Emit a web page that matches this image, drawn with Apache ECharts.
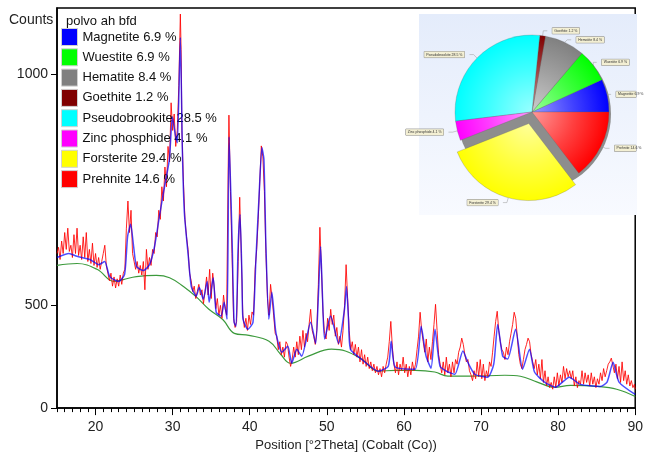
<!DOCTYPE html>
<html>
<head>
<meta charset="utf-8">
<script src="https://cdn.jsdelivr.net/npm/echarts@6/dist/echarts.min.js"></script>
<style>
html, body { margin: 0; padding: 0; background: #fff; }
#chart { width: 646px; height: 457px; }
</style>
</head>
<body>
<div id="chart"></div>
<script>
// phases (legend + pie)
var phases = ["Magnetite", "Wuestite", "Hematite", "Goethite", "Pseudobrookite", "Zinc phosphide", "Forsterite", "Prehnite"];
var phasePct = [6.9, 6.9, 8.4, 1.2, 28.5, 4.1, 29.4, 14.6];
var phaseColors = ["#0000ff", "#00ff00", "#808080", "#800000", "#00ffff", "#ff00ff", "#ffff00", "#ff0000"];

// axis ticks
var xTicks = [20, 30, 40, 50, 60, 70, 80, 90];
var yTicks = [0, 500, 1000];

// observed pattern [°2Theta, counts]
var observed = [
[15.0,640],[15.2,655],[15.4,625],[15.6,670],[15.8,640],[16.0,690],[16.2,650],[16.4,700],[16.6,645],[16.8,660],
[17.0,630],[17.2,685],[17.4,640],[17.6,700],[17.8,635],[18.0,660],[18.2,625],[18.4,680],[18.6,630],[18.8,690],
[19.0,620],[19.2,650],[19.4,615],[19.6,665],[19.8,610],[20.0,640],[20.2,605],[20.4,630],[20.6,600],[20.8,620],
[21.0,640],[21.2,660],[21.4,610],[21.6,590],[21.8,570],[22.0,590],[22.2,555],[22.4,580],[22.6,550],[22.8,575],
[23.0,555],[23.2,585],[23.4,560],[23.6,590],[23.8,600],[24.0,700],[24.2,760],[24.4,690],[24.6,740],[24.8,640],
[25.0,620],[25.2,600],[25.4,620],[25.6,590],[25.8,610],[26.0,585],[26.2,620],[26.4,545],[26.6,650],[26.8,600],
[27.0,630],[27.2,610],[27.4,650],[27.6,640],[27.8,690],[28.0,680],[28.2,740],[28.4,720],[28.6,790],[28.8,760],
[29.0,830],[29.2,790],[29.4,870],[29.6,840],[29.8,950],[30.0,900],[30.2,930],[30.4,870],[30.6,900],[30.8,980],
[31.0,1097],[31.1,1040],[31.2,900],[31.4,800],[31.6,720],[31.8,680],[32.0,650],[32.2,590],[32.4,570],[32.6,540],
[32.8,555],[33.0,520],[33.2,540],[33.4,560],[33.6,530],[33.8,545],[34.0,505],[34.2,540],[34.4,580],[34.6,530],
[34.8,600],[35.0,520],[35.2,590],[35.4,550],[35.6,490],[35.8,520],[36.0,470],[36.2,500],[36.4,460],[36.6,530],
[36.8,490],[37.0,470],[37.2,820],[37.3,928],[37.5,780],[37.7,640],[37.9,460],[38.1,430],[38.3,450],[38.5,620],
[38.7,768],[38.9,640],[39.1,470],[39.3,430],[39.5,460],[39.7,420],[39.9,470],[40.1,440],[40.3,480],[40.5,470],
[40.7,600],[40.9,650],[41.1,720],[41.3,800],[41.5,871],[41.7,850],[41.9,780],[42.1,640],[42.3,520],[42.5,470],
[42.7,560],[42.9,520],[43.1,470],[43.3,410],[43.5,400],[43.7,350],[43.9,380],[44.1,330],[44.3,360],[44.5,320],
[44.7,380],[44.9,370],[45.1,320],[45.3,280],[45.5,310],[45.7,360],[45.9,320],[46.1,380],[46.3,330],[46.5,400],
[46.7,350],[46.9,420],[47.1,360],[47.3,410],[47.5,380],[47.7,440],[47.9,488],[48.1,420],[48.3,400],[48.5,370],
[48.7,420],[48.9,560],[49.1,702],[49.3,600],[49.5,480],[49.7,410],[49.9,390],[50.1,460],[50.3,420],[50.5,488],
[50.7,440],[50.9,470],[51.1,400],[51.3,430],[51.5,370],[51.7,400],[51.9,360],[52.1,420],[52.3,500],[52.5,612],
[52.7,520],[52.9,420],[53.1,350],[53.3,380],[53.5,330],[53.7,370],[53.9,320],[54.1,360],[54.3,300],[54.5,350],
[54.7,290],[54.9,330],[55.1,280],[55.3,320],[55.5,270],[55.7,300],[55.9,260],[56.1,290],[56.3,250],[56.5,280],
[56.7,240],[56.9,270],[57.1,230],[57.3,280],[57.5,250],[57.7,290],[57.9,320],[58.1,380],[58.3,450],[58.5,360],
[58.7,290],[58.9,250],[59.1,300],[59.3,240],[59.5,290],[59.7,260],[59.9,320],[60.1,250],[60.3,290],[60.5,230],
[60.7,280],[60.9,240],[61.1,300],[61.3,260],[61.5,290],[61.7,350],[61.9,400],[62.1,479],[62.3,420],[62.5,380],
[62.7,340],[62.9,390],[63.1,300],[63.3,360],[63.5,310],[63.7,380],[63.9,440],[64.1,503],[64.3,420],[64.5,330],
[64.7,290],[64.9,250],[65.1,300],[65.3,240],[65.5,320],[65.7,250],[65.9,290],[66.1,230],[66.3,300],[66.5,250],
[66.7,310],[66.9,290],[67.1,340],[67.3,360],[67.5,393],[67.7,370],[67.9,330],[68.1,300],[68.3,310],[68.5,260],
[68.7,240],[68.9,210],[69.1,260],[69.3,220],[69.5,300],[69.7,230],[69.9,310],[70.1,220],[70.3,290],[70.5,210],
[70.7,260],[70.9,230],[71.1,300],[71.3,280],[71.5,340],[71.7,400],[71.9,450],[72.1,482],[72.3,420],[72.5,380],
[72.7,350],[72.9,340],[73.1,310],[73.3,360],[73.5,330],[73.7,380],[73.9,410],[74.1,440],[74.3,479],[74.5,460],
[74.7,400],[74.9,330],[75.1,290],[75.3,270],[75.5,310],[75.7,350],[75.9,370],[76.1,393],[76.3,380],[76.5,330],
[76.7,300],[76.9,270],[77.1,310],[77.3,240],[77.5,290],[77.7,220],[77.9,310],[78.1,200],[78.3,260],[78.5,180],
[78.7,230],[78.9,170],[79.1,200],[79.3,160],[79.5,230],[79.7,170],[79.9,250],[80.1,180],[80.3,240],[80.5,200],
[80.7,280],[80.9,220],[81.1,270],[81.3,230],[81.5,260],[81.7,220],[81.9,260],[82.1,180],[82.3,230],[82.5,170],
[82.7,210],[82.9,190],[83.1,260],[83.3,190],[83.5,250],[83.7,200],[83.9,240],[84.1,180],[84.3,250],[84.5,190],
[84.7,230],[84.9,170],[85.1,220],[85.3,190],[85.5,250],[85.7,210],[85.9,270],[86.1,230],[86.3,260],[86.5,290],
[86.7,300],[86.9,316],[87.1,310],[87.3,250],[87.5,290],[87.7,220],[87.9,280],[88.1,200],[88.3,300],[88.5,210],
[88.7,260],[88.9,190],[89.1,240],[89.3,180],[89.5,210],[89.7,170],[89.9,190],[90.0,160]
];

// calculated profile
var calculated = [
[15.0,630],[16.55,640],[17.58,633],[19.26,625],[20.42,612],[21.19,620],[21.84,581],[23.0,568],[23.77,587],[24.16,681],
[24.55,709],[24.94,657],[25.32,607],[26.23,597],[27.0,612],[27.65,657],[28.29,727],[28.81,778],[29.19,811],[29.58,845],
[29.97,925],[30.35,892],[30.61,877],[31.0,1060],[31.26,864],[31.52,735],[32.03,633],[32.42,554],[33.06,527],[33.45,552],
[33.97,518],[34.48,568],[34.74,509],[35.26,578],[35.65,479],[36.29,467],[36.68,509],[37.06,457],[37.32,888],[37.71,675],
[37.97,447],[38.23,434],[38.48,650],[38.74,731],[39.0,573],[39.13,457],[39.77,424],[40.42,447],[40.8,625],[41.19,764],
[41.58,868],[41.84,845],[42.1,657],[42.48,457],[42.87,538],[43.39,413],[44.16,340],[44.94,363],[45.45,294],[46.1,352],
[46.74,324],[47.9,447],[48.55,374],[48.94,546],[49.19,657],[49.45,518],[49.71,390],[50.48,467],[51.52,374],[52.29,488],
[52.55,554],[52.81,457],[53.06,352],[54.48,312],[56.68,258],[57.97,281],[58.35,382],[58.87,277],[61.45,267],[62.23,434],
[62.87,324],[63.52,272],[64.03,424],[64.68,281],[65.71,254],[66.61,243],[67.65,345],[68.29,298],[69.19,243],[70.87,228],
[71.65,290],[72.16,440],[72.81,324],[73.45,312],[74.48,424],[75.39,267],[76.29,352],[76.94,254],[78.23,202],[79.65,172],
[81.45,228],[82.87,189],[85.45,177],[86.35,202],[87.13,298],[87.9,202],[90.0,125]
];

// background
var background = [
[15,610],[17.6,615],[20.2,600],[22.4,568],[23.6,573],[25.3,581],[27.9,584],[29.6,578],[31.4,554],[33.1,524],
[34.7,488],[36.5,456],[38,410],[39.9,403],[42.5,382],[44,332],[45.3,294],[47.6,324],[50.6,352],[52.4,345],
[54.5,312],[56.7,258],[58.9,262],[61.5,262],[64,254],[65.7,233],[68.7,233],[73.1,238],[75.1,233],[77.3,202],
[79.5,172],[81.6,183],[85.1,177],[87.6,160],[90,110]
];

// the counts axis of the reference is stretched towards the top
function scaleY(c) {
    return 0.077 * c + 0.000258 * c * c;
}
function toPlot(arr) {
    return arr.map(p => [p[0], scaleY(p[1])]);
}

function tint(hex, f) {
    var r = parseInt(hex.substr(1, 2), 16), g = parseInt(hex.substr(3, 2), 16), b = parseInt(hex.substr(5, 2), 16);
    r = Math.round(r + (255 - r) * f);
    g = Math.round(g + (255 - g) * f);
    b = Math.round(b + (255 - b) * f);
    return "rgb(" + r + "," + g + "," + b + ")";
}

var pieCenter = [532, 112];
var pieRadius = 77;

var pieData = phases.map((name, i) => ({
    name: name,
    value: phasePct[i],
    selected: name == "Forsterite",
    itemStyle: {
        color: {
            type: "radial", x: pieCenter[0], y: pieCenter[1], r: pieRadius, global: true,
            colorStops: [
                { offset: 0, color: tint(phaseColors[i], 0.6) },
                { offset: 0.55, color: tint(phaseColors[i], 0.25) },
                { offset: 1, color: phaseColors[i] }
            ]
        }
    }
}));

var font = "Liberation Sans, Arial, sans-serif";
var myChart = echarts.init(document.getElementById("chart"));
var option = {
    animation: false,
    backgroundColor: "#ffffff",
    textStyle: { fontFamily: font },
    title: [{
        text: "polvo ah bfd", left: 61, top: 10,
        textStyle: { fontSize: 13, fontWeight: "normal", color: "#111", fontFamily: font }
    }, {
        text: "Counts", left: 4, top: 8,
        textStyle: { fontSize: 14, fontWeight: "normal", color: "#222", fontFamily: font }
    }],
    legend: {
        orient: "vertical",
        left: 61,
        top: 28,
        icon: "rect",
        itemWidth: 16,
        itemHeight: 17,
        itemGap: 2.3,
        selectedMode: false,
        padding: 0,
        itemStyle: { borderColor: "#d0d0d0", borderWidth: 1 },
        textStyle: { fontSize: 13, color: "#111", fontFamily: font },
        formatter: name => name + " " + phasePct[phases.indexOf(name)].toFixed(1) + " %",
        data: phases.map((n, i) => ({ name: n, itemStyle: { color: phaseColors[i] } }))
    },
    graphic: [{
        type: "rect",
        z: 1,
        shape: { x: 419, y: 14, width: 218, height: 201 },
        style: {
            fill: {
                type: "linear", x: 0, y: 0, x2: 0, y2: 1,
                colorStops: [{ offset: 0, color: "#e4ecfb" }, { offset: 1, color: "#f8faff" }]
            }
        }
    }],
    grid: {
        left: 57, right: 6, top: 8, bottom: 48,
        show: true, borderColor: "#000", borderWidth: 1.5
    },
    xAxis: [{
        type: "value", min: 15, max: 90,
        name: "Position [°2Theta] (Cobalt (Co))",
        nameLocation: "middle",
        nameGap: 25,
        nameTextStyle: { fontSize: 13, color: "#222", fontFamily: font },
        axisLine: { onZero: false, lineStyle: { color: "#000", width: 1.5 } },
        axisTick: { customValues: Array.from({ length: 76 }, (v, i) => 15 + i), length: 4, lineStyle: { color: "#000" } },
        axisLabel: { customValues: xTicks, fontSize: 14, color: "#222", margin: 12, fontFamily: font },
        splitLine: { show: false }
    }, {
        type: "value", min: 15, max: 90, position: "bottom",
        axisLine: { show: false },
        axisTick: { customValues: xTicks, length: 7, lineStyle: { color: "#000" } },
        axisLabel: { show: false },
        splitLine: { show: false }
    }],
    yAxis: {
        type: "value", min: 0, max: 401,
        axisLine: { show: true, lineStyle: { color: "#000", width: 1.5 } },
        axisTick: { customValues: yTicks.map(scaleY), length: 6, lineStyle: { color: "#000" } },
        axisLabel: {
            customValues: yTicks.map(scaleY),
            fontSize: 14, color: "#222", margin: 9, fontFamily: font,
            formatter: v => {
                var best = yTicks[0];
                yTicks.forEach(t => { if (Math.abs(scaleY(t) - v) < Math.abs(scaleY(best) - v)) best = t; });
                return best;
            }
        },
        splitLine: { show: false }
    },
    series: [{
        name: "background",
        type: "line",
        data: toPlot(background),
        smooth: 0.4,
        showSymbol: false,
        lineStyle: { color: "#3c9a3c", width: 1.2 },
        z: 2
    }, {
        name: "observed",
        type: "line",
        data: toPlot(observed),
        showSymbol: false,
        lineStyle: { color: "#ff0000", width: 1, opacity: 0.85 },
        z: 3
    }, {
        name: "calculated",
        type: "line",
        data: toPlot(calculated),
        smooth: 0.2,
        showSymbol: false,
        lineStyle: { color: "#0000ff", width: 1.5, opacity: 0.7 },
        z: 4
    }, {
        name: "shadow",
        type: "pie",
        silent: true,
        center: [pieCenter[0] + 2, pieCenter[1] + 2],
        radius: pieRadius,
        label: { show: false },
        labelLine: { show: false },
        itemStyle: { color: "#8d8d8d" },
        data: [{ value: 1, name: "" }],
        z: 5
    }, {
        name: "phases",
        type: "pie",
        center: pieCenter,
        radius: pieRadius,
        startAngle: 0,
        clockwise: false,
        selectedMode: "single",
        selectedOffset: 12,
        data: pieData,
        itemStyle: { borderColor: "rgba(90,90,90,0.5)", borderWidth: 0.5 },
        label: {
            show: true,
            position: "outside",
            fontSize: 3.5,
            color: "#333",
            overflow: "none",
            formatter: "{b} {c} %",
            backgroundColor: "#f3efd3",
            borderColor: "#888",
            borderWidth: 0.5,
            padding: [1, 2]
        },
        labelLine: { show: true, length: 5, length2: 4, lineStyle: { color: "#999", width: 0.5 } },
        z: 6
    }]
};
myChart.setOption(option);
</script>
</body>
</html>
